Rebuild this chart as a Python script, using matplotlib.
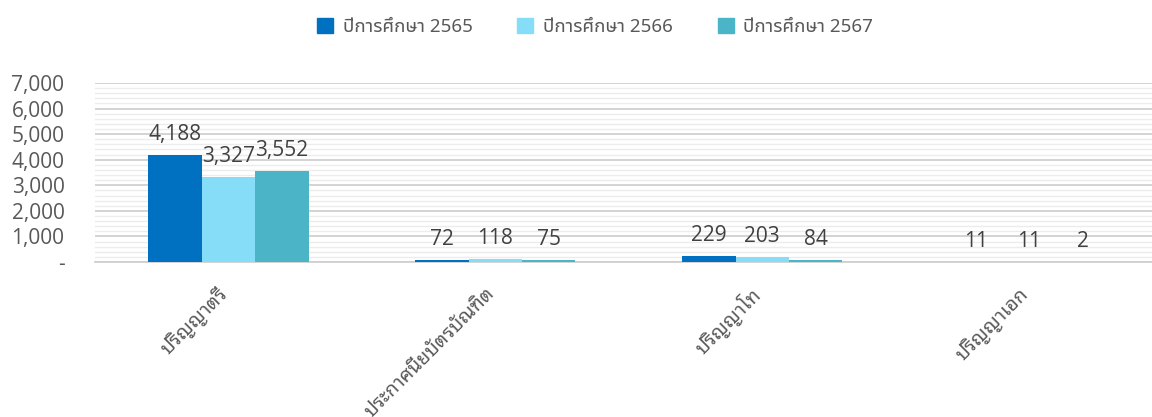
import matplotlib
matplotlib.use("Agg")
import matplotlib.pyplot as plt
import numpy as np
from matplotlib.ticker import MultipleLocator, FuncFormatter
from matplotlib.patches import Patch

plt.rcParams["font.family"] = ["Noto Sans Thai UI", "Noto Sans Thai", "DejaVu Sans"]

# ข้อมูล
categories = ["ปริญญาตรี", "ประกาศนียบัตรบัณฑิต", "ปริญญาโท", "ปริญญาเอก"]
series_names = ["ปีการศึกษา 2565", "ปีการศึกษา 2566", "ปีการศึกษา 2567"]
y2565 = [4188, 72, 229, 11]
y2566 = [3327, 118, 203, 11]
y2567 = [3552, 75, 84, 2]
colors = ["#0070C0", "#86DDF8", "#4BB4C6"]

fig = plt.figure(figsize=(11.52, 4.17), dpi=100)
ax = fig.add_axes([95 / 1152, 1 - 262 / 417, 1 - 95 / 1152, (262 - 83) / 417])

x = np.arange(len(categories))
w = 0.2
for i, (vals, name, c) in enumerate(zip([y2565, y2566, y2567], series_names, colors)):
    pos = x + (i - 1) * w
    ax.bar(pos, vals, width=w, color=c, zorder=3, label=name)
    for px, v in zip(pos, vals):
        ax.annotate(f"{v:,}", (px, v), xytext=(0, 7), textcoords="offset points",
                    ha="center", va="bottom", fontsize=15, color="#404040",
                    family=["Open Sans", "DejaVu Sans"])

ax.set_xlim(-0.5, 3.46)
ax.set_ylim(0, 7000)
ax.yaxis.set_major_locator(MultipleLocator(1000))
ax.yaxis.set_minor_locator(MultipleLocator(200))
ax.yaxis.set_major_formatter(FuncFormatter(lambda v, p: "-" if v == 0 else f"{int(v):,}"))
ax.grid(axis="y", which="major", color="#d0d0d0", linewidth=1.3, zorder=0)
ax.grid(axis="y", which="minor", color="#ececec", linewidth=1.0, zorder=0)
ax.tick_params(axis="y", which="both", length=0, labelsize=15, labelcolor="#595959", pad=22)
for lab in ax.get_yticklabels():
    lab.set_family(["Open Sans", "DejaVu Sans"])
ax.set_xticks([])
for s in ["top", "right", "left"]:
    ax.spines[s].set_visible(False)
ax.spines["bottom"].set_color("#d0d0d0")
ax.spines["bottom"].set_linewidth(1.3)

# ป้ายแกน x เอียง 45 องศา
for xi, cat in zip(x, categories):
    ax.annotate(cat, (xi, 0), xytext=(-3, -21), textcoords="offset points",
                ha="right", va="center", rotation=45, rotation_mode="anchor",
                fontsize=14, color="#595959", family=["Noto Sans Thai Looped", "DejaVu Sans"],
                fontweight="light", annotation_clip=False)

handles = [Patch(color=c) for c in colors]
fig.legend(handles, series_names, loc="center", bbox_to_anchor=(595 / 1152, 1 - 27 / 417),
           ncol=3, frameon=False, fontsize=13.5, labelcolor="#595959",
           handlelength=0.85, handleheight=0.85, handletextpad=0.5, columnspacing=2.4)

fig.savefig("out.png")
